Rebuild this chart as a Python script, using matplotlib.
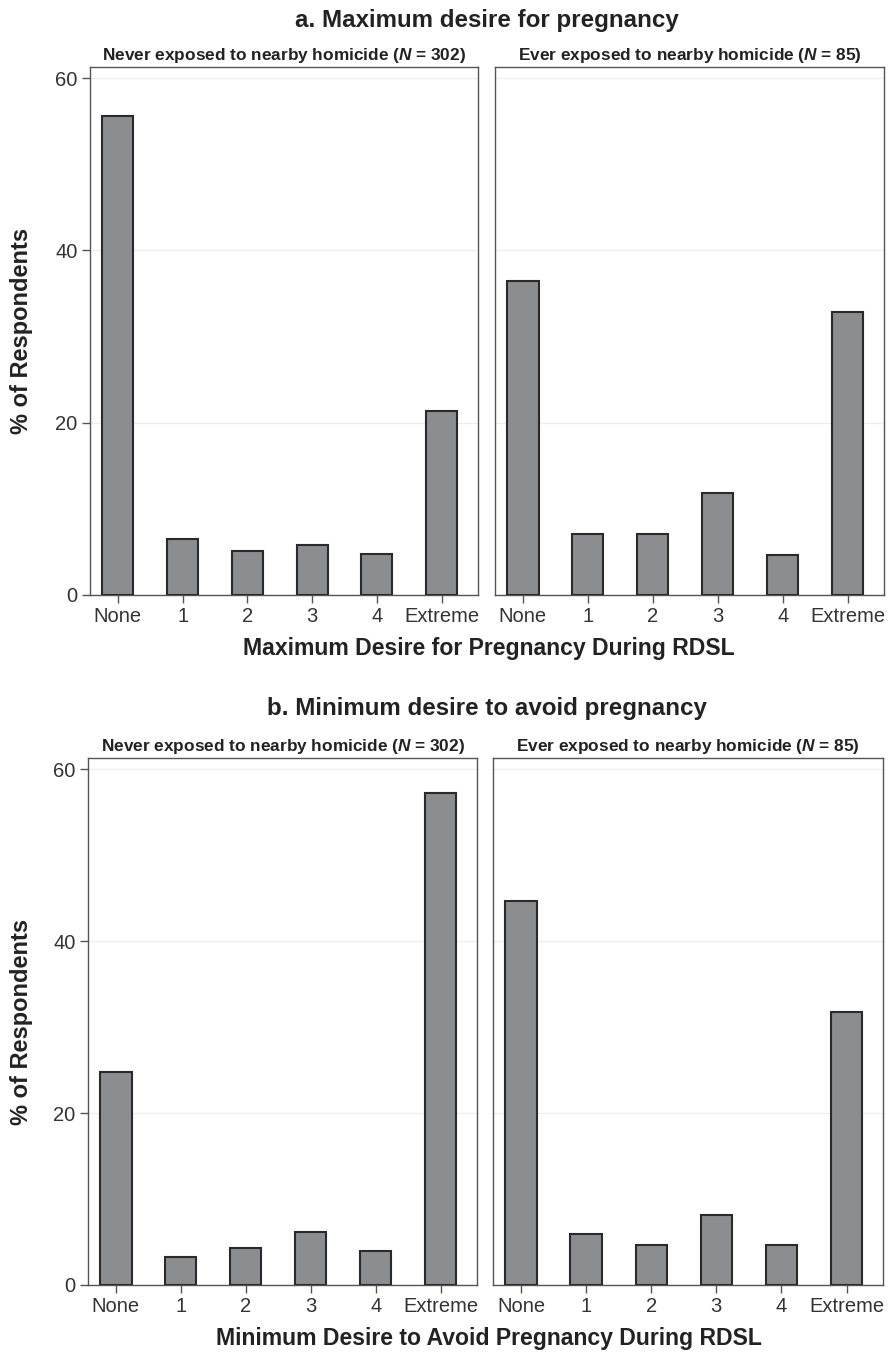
import numpy as np
import matplotlib
matplotlib.use("Agg")
import matplotlib.pyplot as plt

plt.rcParams["font.family"] = ["Liberation Sans", "DejaVu Sans"]
plt.rcParams["mathtext.fontset"] = "custom"
plt.rcParams["mathtext.it"] = "Liberation Sans:italic:bold"
plt.rcParams["mathtext.rm"] = "Liberation Sans:bold"

categories = ["None", "1", "2", "3", "4", "Extreme"]
max_never = [55.6, 6.5, 5.1, 5.8, 4.8, 21.4]
max_ever = [36.5, 7.1, 7.1, 11.8, 4.7, 32.9]
min_never = [24.8, 3.3, 4.3, 6.2, 4.0, 57.2]
min_ever = [44.7, 5.9, 4.7, 8.2, 4.7, 31.8]

panel_titles = ["Never exposed to nearby homicide ($\\mathit{N}$ = 302)",
                "Ever exposed to nearby homicide ($\\mathit{N}$ = 85)"]
section_titles = ["a. Maximum desire for pregnancy", "b. Minimum desire to avoid pregnancy"]
x_titles = ["Maximum Desire for Pregnancy During RDSL",
            "Minimum Desire to Avoid Pregnancy During RDSL"]

W, H = 890, 1357
fig = plt.figure(figsize=(W / 100, H / 100), dpi=100)

BAR_COLOR = "#8c8d91"
EDGE = "#2a2a2a"
SPINE = "#555555"


def box(x0, y0, x1, y1):
    # pixel box -> figure fraction rect
    return [x0 / W, 1 - y1 / H, (x1 - x0) / W, (y1 - y0) / H]


def draw_panel(ax, values, title, show_y):
    x = np.arange(len(categories))
    ax.bar(x, values, width=0.48, color=BAR_COLOR, edgecolor=EDGE, linewidth=1.5, zorder=3)
    ax.set_xlim(-0.43, 5.56)
    ax.set_ylim(0, 61.3)
    ax.set_yticks([0, 20, 40, 60])
    ax.yaxis.grid(True, color="#eeeeee", linewidth=1, zorder=0)
    ax.set_axisbelow(True)
    ax.set_xticks(x)
    ax.set_xticklabels(categories)
    ax.tick_params(axis="x", length=6, width=1, color=SPINE, labelsize=14.5, labelcolor="#333333", pad=3)
    if show_y:
        ax.tick_params(axis="y", length=6, width=1, color=SPINE, labelsize=14.5, labelcolor="#333333", pad=3)
    else:
        ax.tick_params(axis="y", length=0, labelleft=False)
    for s in ax.spines.values():
        s.set_color(SPINE)
        s.set_linewidth(1)
    ax.set_title(title, fontsize=12.4, fontweight="bold", color="#222222", pad=5)


boxes = [
    [(90, 67, 478, 595), (495, 67, 884, 595)],
    [(88, 758, 477, 1285), (493, 758, 883, 1285)],
]
data = [[max_never, max_ever], [min_never, min_ever]]
title_y = [20, 708]
xlab_y = [648, 1339]

for r in range(2):
    for c in range(2):
        ax = fig.add_axes(box(*boxes[r][c]))
        draw_panel(ax, data[r][c], panel_titles[c], c == 0)
    fig.text(487 / W, 1 - title_y[r] / H, section_titles[r], ha="center", va="center",
             fontsize=17.4, fontweight="bold", color="#222222")
    fig.text(489 / W, 1 - xlab_y[r] / H, x_titles[r], ha="center", va="center",
             fontsize=16.6, fontweight="bold", color="#222222")
    yc = (boxes[r][0][1] + boxes[r][0][3]) / 2
    fig.text(22 / W, 1 - yc / H, "% of Respondents", ha="center", va="center", rotation=90,
             fontsize=17, fontweight="bold", color="#222222")

fig.savefig("out.png", dpi=100, facecolor="white")
